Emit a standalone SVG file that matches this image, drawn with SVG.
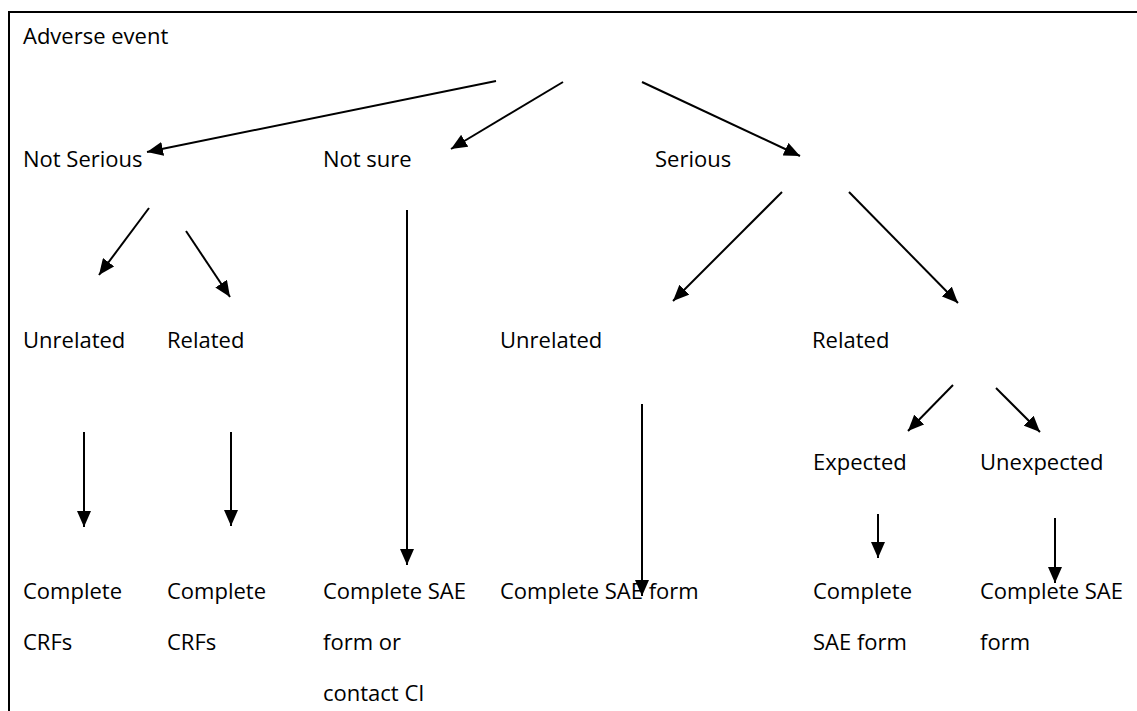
<svg xmlns="http://www.w3.org/2000/svg" width="1137" height="711" viewBox="0 0 1137 711">
<style>
text{font-family:"Open Sans","Noto Sans",sans-serif;font-size:22px;fill:#000}
.c{stroke:#000;stroke-width:2;fill:none;marker-end:url(#ah)}
</style>
<defs>
<marker id="ah" markerUnits="userSpaceOnUse" markerWidth="18" markerHeight="14" refX="16" refY="7" orient="auto">
<path d="M0,0 L16,7 L0,14 Z" fill="#000"/>
</marker>
</defs>
<rect width="1137" height="711" fill="#fff"/>
<path d="M9,711 V12 H1137" stroke="#000" stroke-width="2" fill="none"/>
<g id="n-adverse"><text x="23" y="44">Adverse event</text></g>
<g id="n-notserious"><text x="23" y="167">Not Serious</text></g>
<g id="n-notsure"><text x="323" y="167">Not sure</text></g>
<g id="n-serious"><text x="655" y="167">Serious</text></g>
<g id="n-unrel1"><text x="23" y="348">Unrelated</text></g>
<g id="n-rel1"><text x="167" y="348">Related</text></g>
<g id="n-unrel2"><text x="500" y="348">Unrelated</text></g>
<g id="n-rel2"><text x="812" y="348">Related</text></g>
<g id="n-expected"><text x="813" y="470">Expected</text></g>
<g id="n-unexpected"><text x="980" y="470">Unexpected</text></g>
<g id="n-crf1"><text x="23" y="599">Complete</text><text x="23" y="650">CRFs</text></g>
<g id="n-crf2"><text x="167" y="599">Complete</text><text x="167" y="650">CRFs</text></g>
<g id="n-sae1"><text x="323" y="599">Complete SAE</text><text x="323" y="650">form or</text><text x="323" y="701">contact CI</text></g>
<g id="n-sae2"><text x="500" y="599">Complete SAE form</text></g>
<g id="n-sae3"><text x="813" y="599">Complete</text><text x="813" y="650">SAE form</text></g>
<g id="n-sae4"><text x="980" y="599">Complete SAE</text><text x="980" y="650">form</text></g>
<g id="connectors">
<line class="c" x1="496" y1="81" x2="147" y2="152"/>
<line class="c" x1="563" y1="82" x2="451" y2="149"/>
<line class="c" x1="642" y1="82" x2="800" y2="156"/>
<line class="c" x1="149" y1="208" x2="99" y2="275"/>
<line class="c" x1="186" y1="231" x2="230" y2="297"/>
<line class="c" x1="782" y1="192" x2="673" y2="301"/>
<line class="c" x1="849" y1="192" x2="958" y2="303"/>
<line class="c" x1="407" y1="210" x2="407" y2="565"/>
<line class="c" x1="84" y1="432" x2="84" y2="527"/>
<line class="c" x1="231" y1="432" x2="231" y2="526"/>
<line class="c" x1="642" y1="404" x2="642" y2="596"/>
<line class="c" x1="953" y1="385" x2="908" y2="431"/>
<line class="c" x1="996" y1="388" x2="1040" y2="432"/>
<line class="c" x1="878" y1="514" x2="878" y2="558"/>
<line class="c" x1="1055" y1="518" x2="1055" y2="583"/>
</g>
</svg>
